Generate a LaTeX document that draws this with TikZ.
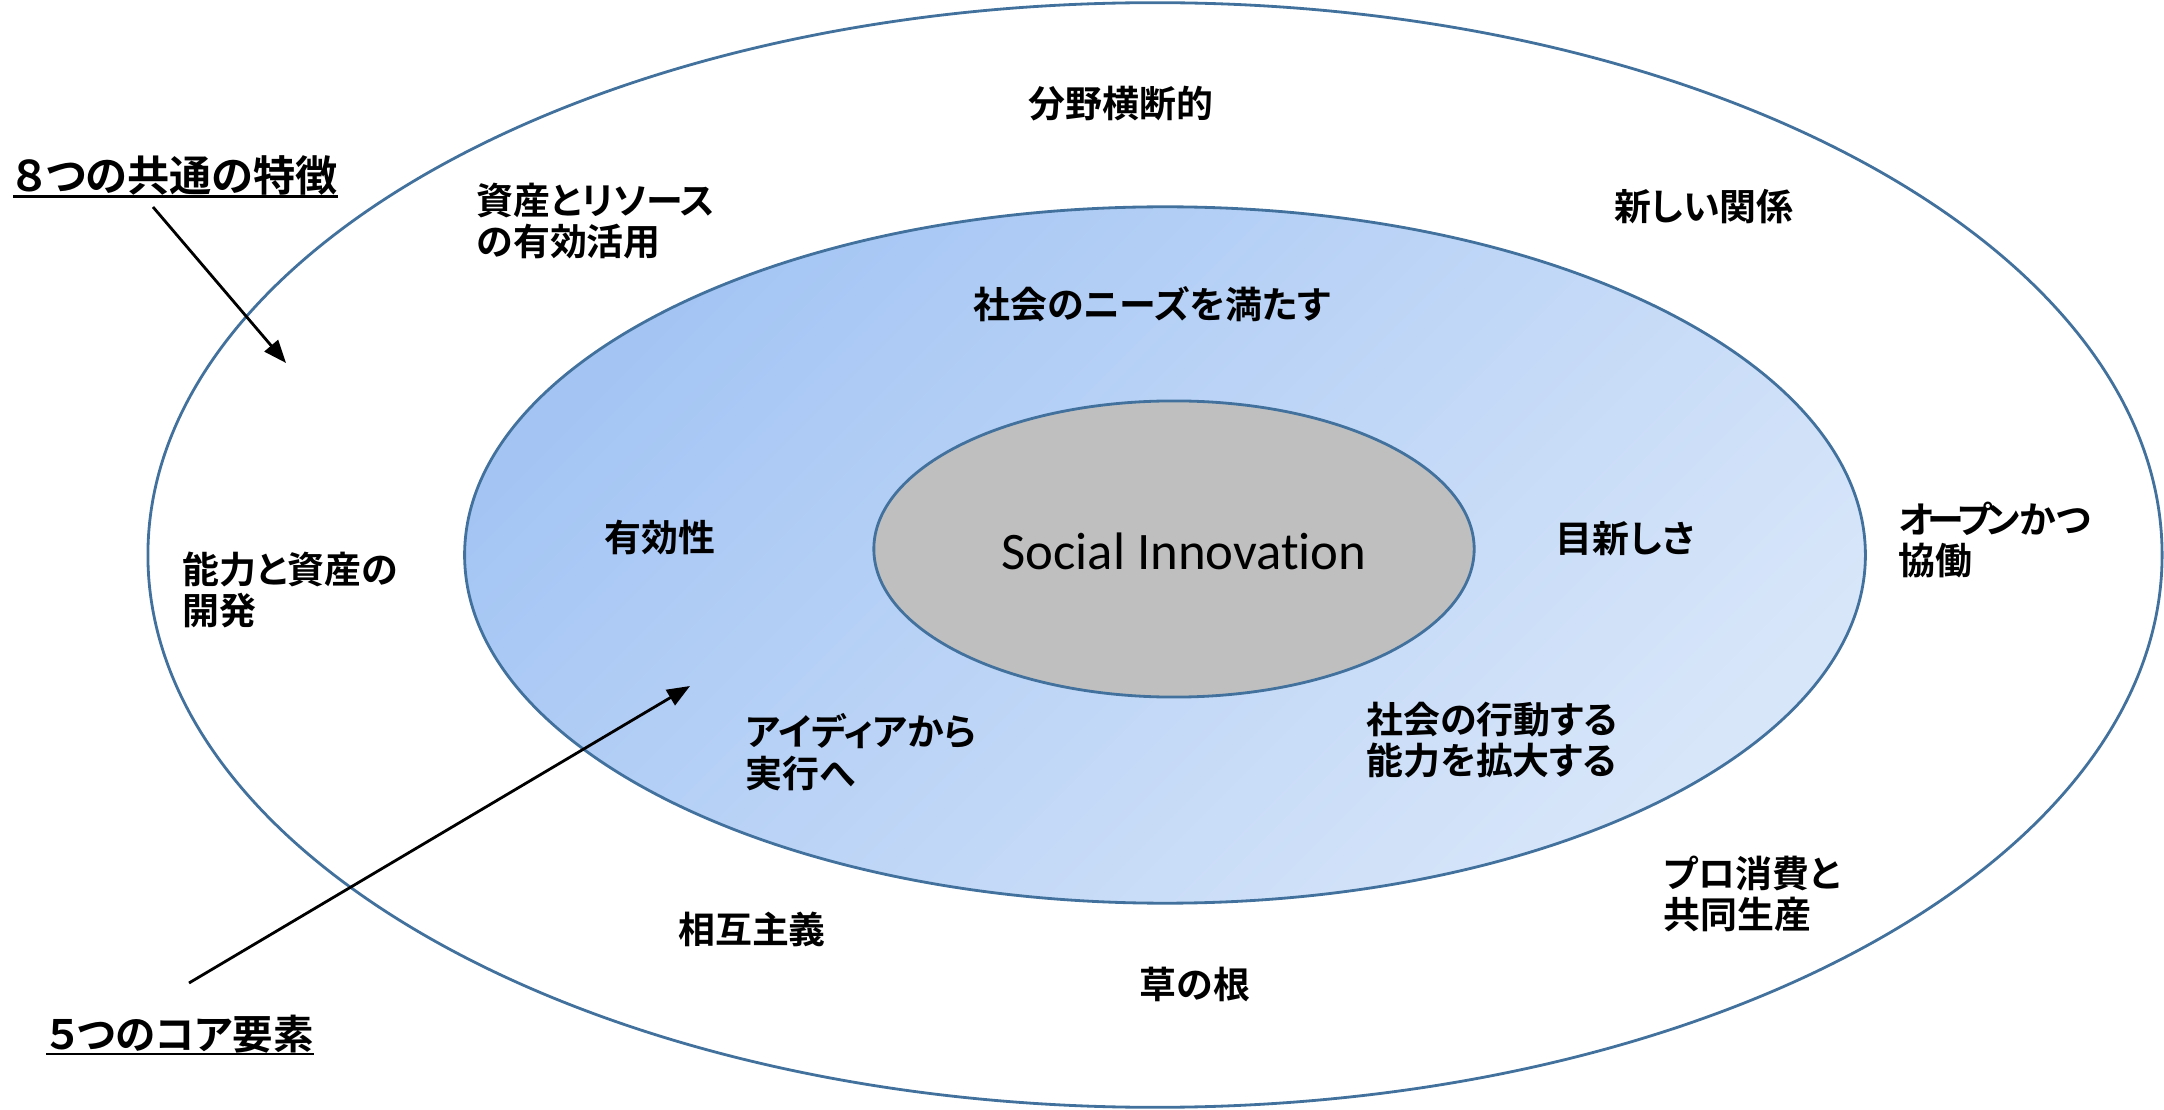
\documentclass[tikz,border=0pt]{standalone}
\usepackage{fontspec}
\usepackage{tikz}
\usetikzlibrary{arrows.meta,shapes.geometric}
\setsansfont{Carlito}[RawFeature=-liga]
\newfontfamily\jpfont{Noto Sans CJK JP Bold}[RawFeature=+palt]
\definecolor{rim}{HTML}{41719C}
\definecolor{coredeep}{HTML}{A4C5F4}
\definecolor{corelight}{HTML}{D8E6F9}
\definecolor{hub}{HTML}{BFBFBF}

\begin{document}
\begin{tikzpicture}[x=0.01cm, y=-0.01cm,
    ring/.style={draw=rim, line width=0.8pt, ellipse, inner sep=0pt},
    feat/.style={font=\jpfont\fontsize{10.5}{11.8}\selectfont, align=left, inner sep=0pt},
    head/.style={font=\jpfont\fontsize{#1}{13}\selectfont, inner sep=0pt},
    pointer/.style={-{Triangle[length=6.5pt,width=5pt]}, line width=0.8pt}]
        \useasboundingbox (0,0) rectangle (2164,1110);
        % the three rings
        \node[ring, minimum width=20.13cm, minimum height=11.04cm] (outer) at (1155,555) {};
        \node[ring, minimum width=14cm, minimum height=6.96cm, top color=coredeep, bottom color=corelight, shading angle=45] (core) at (1165,555) {};
        \node[ring, fill=hub, minimum width=6cm, minimum height=2.96cm] (si) at (1174,549) {};
        \node[font=\sffamily\fontsize{15}{18}\selectfont, inner sep=0pt] (silabel) at (1184,551) {Social Innovation};
        % common features
        \node[feat] (cross) at (1121,104) {分野横断的};
        \node[feat, anchor=west] (assets) at (476,221) {資産とリソース\\の有効活用};
        \node[feat] (relation) at (1704,207) {新しい関係};
        \node[feat, anchor=west] (open) at (1898,540) {オ\kern-1.5pt ー\kern-2pt プ\kern-1.5pt ンかつ\\協働};
        \node[feat, anchor=west] (develop) at (182,590) {能力と資産の\\開発};
        \node[feat, anchor=west] (prosume) at (1663,894) {プロ消費と\\共同生産};
        \node[feat] (mutual) at (752,929) {相互主義};
        \node[feat] (grass) at (1195,984) {草の根};
        % core elements
        \node[feat] (needs) at (1152,304) {社会のニーズを満たす};
        \node[feat] (effect) at (660,538) {有効性};
        \node[feat] (novel) at (1625,539) {目新しさ};
        \node[feat, anchor=west] (idea) at (745,752) {アイディアから\\実行へ};
        \node[feat, anchor=west] (capacity) at (1366,740) {社会の行動する\\能力を拡大する};
        % headings and pointers
        \node[head=12, anchor=west] (eight) at (13,176) {８つの共通の特徴};
        \node[head=11.5, anchor=west] (five) at (46,1034) {５つのコア要素};
        \draw[line width=0.7pt] (eight.south west) -- (eight.south east);
        \draw[line width=0.7pt] (five.south west) -- (five.south east);
        \coordinate (eightfrom) at (153,207);
        \coordinate (eightto) at (286,363);
        \coordinate (fivefrom) at (189,983);
        \coordinate (fiveto) at (690,686);
        \draw[pointer] (eightfrom) -- (eightto);
        \draw[pointer] (fivefrom) -- (fiveto);
    \end{tikzpicture}
\end{document}
